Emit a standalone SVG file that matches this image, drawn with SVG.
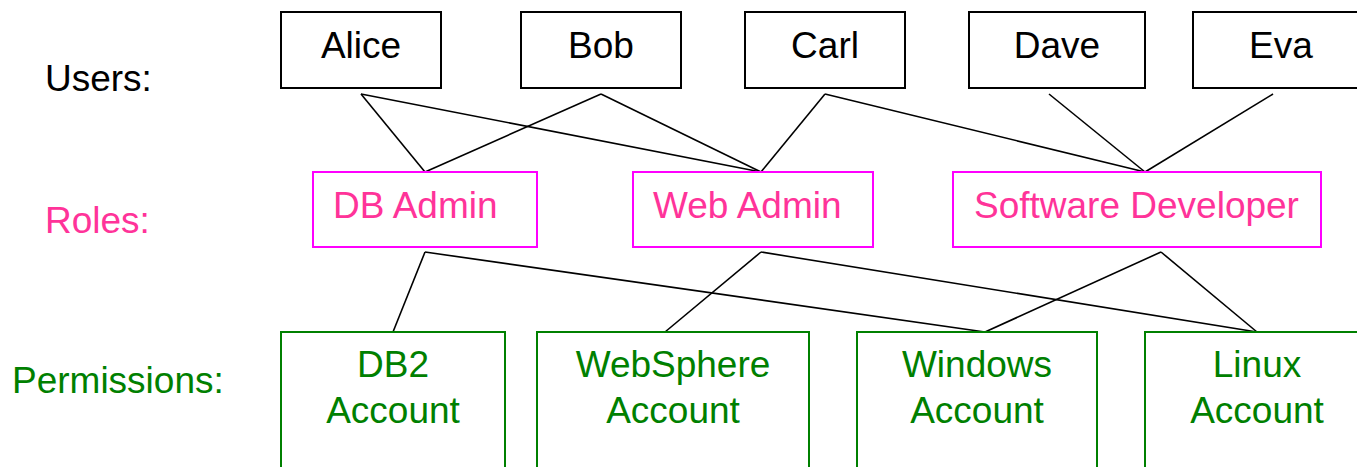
<svg xmlns="http://www.w3.org/2000/svg" width="1357" height="467" viewBox="0 0 1357 467">
<style>
text{font-family:"Liberation Sans",Arial,sans-serif;font-size:37px}
.user rect{fill:#fff;stroke:#000;stroke-width:2}
.user text{fill:#000;text-anchor:middle}
.role rect{fill:#fff;stroke:#ff00ff;stroke-width:2}
.role text{fill:#ff3399}
.perm rect{fill:#fff;stroke:#008000;stroke-width:2}
.perm text{fill:#008000;text-anchor:middle}
#connectors line{stroke:#000;stroke-width:1.6}
</style>
<rect width="1357" height="467" fill="#fff"/>
<g id="labels">
<text x="45" y="91" fill="#000">Users:</text>
<text x="45" y="233" fill="#ff3399">Roles:</text>
<text x="12" y="393" fill="#008000">Permissions:</text>
</g>
<g id="connectors">
<line x1="361" y1="94" x2="425" y2="172"/>
<line x1="361" y1="94" x2="761" y2="172"/>
<line x1="601" y1="94" x2="425" y2="172"/>
<line x1="601" y1="94" x2="761" y2="172"/>
<line x1="825" y1="94" x2="761" y2="172"/>
<line x1="825" y1="94" x2="1145" y2="172"/>
<line x1="1049" y1="94" x2="1145" y2="172"/>
<line x1="1273" y1="94" x2="1145" y2="172"/>
<line x1="425" y1="252" x2="393" y2="332"/>
<line x1="425" y1="252" x2="985" y2="332"/>
<line x1="761" y1="252" x2="665" y2="332"/>
<line x1="761" y1="252" x2="1257" y2="332"/>
<line x1="1161" y1="252" x2="985" y2="332"/>
<line x1="1161" y1="252" x2="1257" y2="332"/>
</g>
<g id="alice" class="user"><rect x="281" y="12" width="160" height="76"/><text x="361" y="58">Alice</text></g>
<g id="bob" class="user"><rect x="521" y="12" width="160" height="76"/><text x="601" y="58">Bob</text></g>
<g id="carl" class="user"><rect x="745" y="12" width="160" height="76"/><text x="825" y="58">Carl</text></g>
<g id="dave" class="user"><rect x="969" y="12" width="176" height="76"/><text x="1057" y="58">Dave</text></g>
<g id="eva" class="user"><rect x="1193" y="12" width="176" height="76"/><text x="1281" y="58">Eva</text></g>
<g id="dbadmin" class="role"><rect x="313" y="172" width="224" height="75"/><text x="333" y="218">DB Admin</text></g>
<g id="webadmin" class="role"><rect x="633" y="172" width="240" height="75"/><text x="653" y="218">Web Admin</text></g>
<g id="softdev" class="role"><rect x="953" y="172" width="368" height="75"/><text x="974" y="218">Software Developer</text></g>
<g id="db2" class="perm"><rect x="281" y="332" width="224" height="150"/><text x="393" y="377">DB2</text><text x="393" y="423">Account</text></g>
<g id="websphere" class="perm"><rect x="537" y="332" width="272" height="150"/><text x="673" y="377">WebSphere</text><text x="673" y="423">Account</text></g>
<g id="windows" class="perm"><rect x="857" y="332" width="240" height="150"/><text x="977" y="377">Windows</text><text x="977" y="423">Account</text></g>
<g id="linux" class="perm"><rect x="1145" y="332" width="224" height="150"/><text x="1257" y="377">Linux</text><text x="1257" y="423">Account</text></g>
</svg>
